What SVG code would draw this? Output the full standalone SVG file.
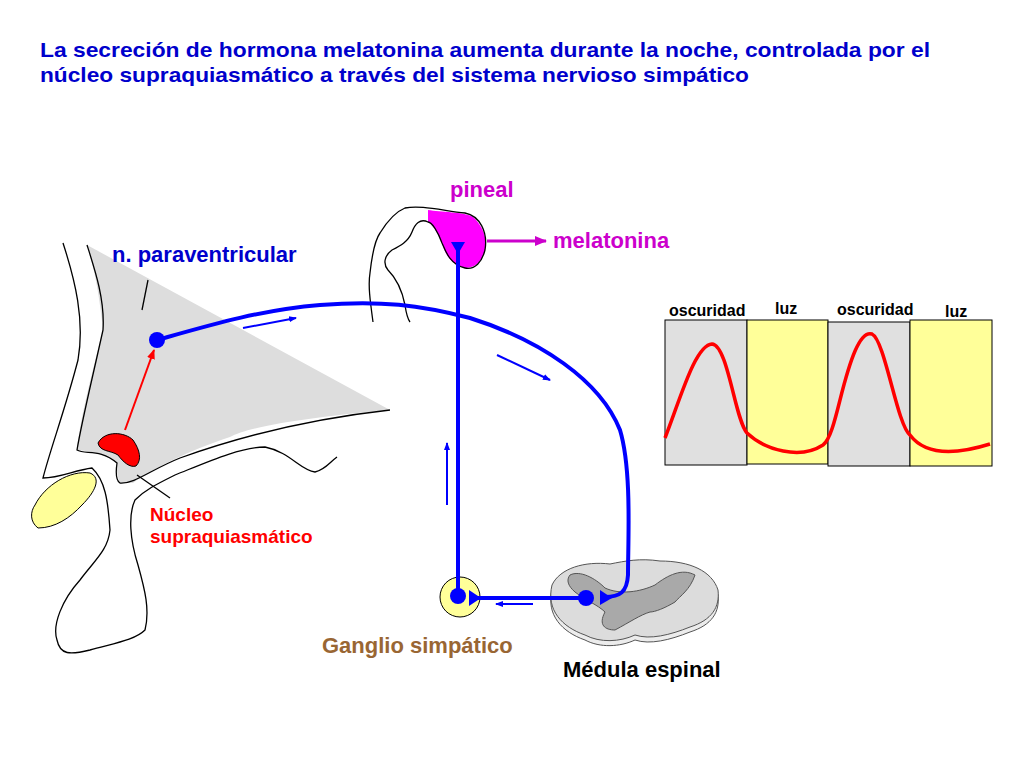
<svg xmlns="http://www.w3.org/2000/svg" width="1024" height="768" viewBox="0 0 1024 768">
<style>
text{font-family:"Liberation Sans",Arial,sans-serif;font-weight:bold}
.ol{fill:none;stroke:#000;stroke-width:1.3}
.ax{fill:none;stroke:#0000ff;stroke-width:4;stroke-linejoin:round}
.sm{fill:none;stroke:#0000ff;stroke-width:2}
</style>
<defs>
<marker id="ab" markerWidth="8" markerHeight="8" refX="7" refY="4" orient="auto" markerUnits="userSpaceOnUse"><path d="M0,1 L8,4 L0,7z" fill="#0000ff"/></marker>
<marker id="ar" markerWidth="10" markerHeight="10" refX="9" refY="5" orient="auto" markerUnits="userSpaceOnUse"><path d="M0,1 L10,5 L0,9z" fill="#ff0000"/></marker>
<marker id="am" markerWidth="12" markerHeight="12" refX="11" refY="6" orient="auto" markerUnits="userSpaceOnUse"><path d="M0,1 L12,6 L0,11z" fill="#cc00cc"/></marker>
</defs>
<rect width="1024" height="768" fill="#fff"/>
<text x="40" y="57" font-size="21" fill="#0000cc" textLength="890" lengthAdjust="spacingAndGlyphs">La secreción de hormona melatonina aumenta durante la noche, controlada por el</text>
<text x="40" y="82" font-size="21" fill="#0000cc" textLength="709" lengthAdjust="spacingAndGlyphs">núcleo supraquiasmático a través del sistema nervioso simpático</text>

<g id="brain">
<path d="M87,245 L390,410 C330,415 250,425 230,437 C190,450 150,470 133,483 L120,483 C115,470 118,465 117,463 C105,455 97,452 77,450 C80,420 90,380 103,330 C100,300 95,270 87,245z" fill="#dddddd"/>
<path class="ol" d="M87,245 C95,270 105,300 103,330 C92,380 82,420 77,450 C85,455 100,448 117,463 C116,470 115,480 120,483 C135,484 150,470 180,458 C230,440 300,420 390,410"/>
<path class="ol" d="M63,243 C75,280 85,320 78,360 C65,410 50,450 43,478 C60,478 75,470 92,468 C105,480 108,500 110,530 C108,550 95,560 80,580 C62,600 52,625 57,640 C60,655 70,655 90,650 C115,643 135,640 145,630 C150,610 145,590 138,565 C130,540 128,515 135,500 C145,490 155,485 175,475 C205,463 240,447 265,447 C290,452 300,470 315,472 C325,470 330,462 337,457"/>
<path d="M98,443 C105,430 125,432 133,440 C140,450 142,460 136,466 C130,468 123,462 118,455 C110,450 100,452 98,443z" fill="#ff0000" stroke="#000" stroke-width="1"/>
<path d="M35,505 C45,485 70,470 90,473 C102,478 95,492 82,505 C70,518 55,528 38,528 C30,522 30,512 35,505z" fill="#ffff99" stroke="#000" stroke-width="1"/>
<line class="ol" x1="148" y1="280" x2="142" y2="310" stroke-width="1"/>
<line class="ol" x1="137" y1="475" x2="170" y2="498" stroke-width="1"/>
</g>

<g id="pineal">
<path d="M428,210 C440,212 465,212 473,217 C482,225 488,238 485,250 C482,262 475,268 465,268 C452,265 445,255 442,243 C438,233 433,225 428,222z" fill="#ff00ff"/>
<path class="ol" d="M373,322 C370,300 368,285 370,273 C372,255 375,240 380,233 C388,220 395,212 405,208 C420,205 440,210 465,213 C480,216 488,232 485,250 C482,262 475,270 465,268 C450,265 445,250 442,243 C438,232 432,222 428,222 C420,218 415,224 412,232 C408,242 400,246 392,250 C384,256 383,264 388,270 C398,280 403,295 405,305 C406,312 407,318 410,322"/>
</g>

<g id="ganglion"><circle cx="460" cy="597" r="20" fill="#ffff99" stroke="#000" stroke-width="1"/></g>

<g id="cord">
<path d="M552,590 C560,572 585,565 610,568 C625,565 640,562 660,565 C690,565 712,575 718,595 C720,612 712,625 690,632 C670,640 650,645 635,640 C620,647 600,648 585,640 C562,632 546,615 552,590z" fill="#ececec" stroke="#555" stroke-width="1"/>
<path d="M552,585 C560,568 585,561 610,564 C625,561 640,558 660,561 C690,561 712,571 718,590 C720,607 712,620 690,627 C670,635 650,640 635,635 C620,642 600,643 585,635 C562,627 546,610 552,585z" fill="#dcdcdc" stroke="#555" stroke-width="1"/>
<path d="M570,575 C580,570 595,578 605,588 C620,595 640,592 655,585 C668,575 682,568 695,575 C690,590 680,596 675,602 C665,608 655,612 650,612 C640,615 630,622 615,630 C605,630 598,625 605,612 C598,605 585,600 575,592 C568,586 566,580 570,575z" fill="#a9a9a9" stroke="#555" stroke-width="1"/>
</g>

<g id="graph">
<rect x="665" y="320" width="82" height="145" fill="#e0e0e0" stroke="#000"/>
<rect x="747" y="320" width="81" height="144" fill="#ffff99" stroke="#000"/>
<rect x="828" y="322" width="82" height="144" fill="#e0e0e0" stroke="#000"/>
<rect x="910" y="320" width="82" height="146" fill="#ffff99" stroke="#000"/>
<path d="M665,438 C680,400 695,345 712,344 C728,345 735,420 747,433 C765,450 800,460 823,445 C830,440 835,420 840,400 C850,360 860,330 872,334 C885,340 897,425 910,435 C925,455 955,455 990,444" fill="none" stroke="#ff0000" stroke-width="3.5"/>
<text x="669" y="316" font-size="16">oscuridad</text>
<text x="775" y="314" font-size="16">luz</text>
<text x="837" y="315" font-size="16">oscuridad</text>
<text x="945" y="317" font-size="16">luz</text>
</g>

<g id="connectors">
<path class="ax" d="M157,340 C210,325 260,310 320,305 C380,300 420,305 470,318 C540,340 600,380 620,430 C632,470 628,540 628,575 C627,592 620,597 605,597"/>
<polygon points="600,590 600,605 612,598" fill="#0000ff"/>
<circle cx="157" cy="340" r="8" fill="#0000ff"/>
<line class="ax" x1="458" y1="245" x2="458" y2="596"/>
<polygon points="451,242 465,242 458,254" fill="#0000ff"/>
<circle cx="458" cy="596" r="8" fill="#0000ff"/>
<line class="ax" x1="585" y1="598" x2="470" y2="598"/>
<polygon points="469,590 469,606 481,598" fill="#0000ff"/>
<circle cx="586" cy="598" r="8" fill="#0000ff"/>
<line class="sm" x1="243" y1="328" x2="296" y2="318" marker-end="url(#ab)"/>
<line class="sm" x1="497" y1="355" x2="550" y2="380" marker-end="url(#ab)"/>
<line class="sm" x1="447" y1="505" x2="447" y2="443" marker-end="url(#ab)"/>
<line class="sm" x1="533" y1="604" x2="496" y2="604" marker-end="url(#ab)"/>
<line x1="125" y1="430" x2="154" y2="350" stroke="#ff0000" stroke-width="2" marker-end="url(#ar)"/>
<line x1="487" y1="241" x2="546" y2="241" stroke="#cc00cc" stroke-width="3" marker-end="url(#am)"/>
</g>

<text x="450" y="197" font-size="22" fill="#cc00cc">pineal</text>
<text x="553" y="248" font-size="22" fill="#cc00cc">melatonina</text>
<text x="112" y="262" font-size="22" fill="#0000cc">n. paraventricular</text>
<text font-size="19" fill="#ff0000"><tspan x="150" y="521">Núcleo</tspan><tspan x="150" y="543">supraquiasmático</tspan></text>
<text x="322" y="653" font-size="22" fill="#996633">Ganglio simpático</text>
<text x="563" y="677" font-size="22" fill="#000">Médula espinal</text>
</svg>
